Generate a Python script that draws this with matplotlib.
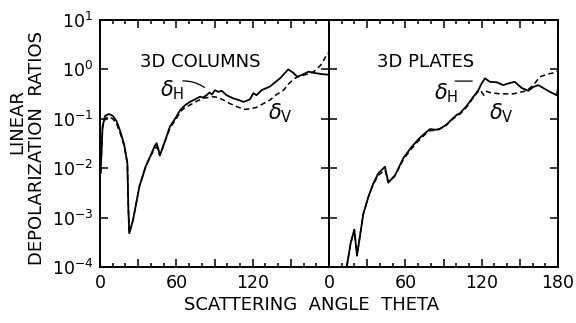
import numpy as np
import matplotlib
matplotlib.use("Agg")
import matplotlib.pyplot as plt
from matplotlib.ticker import MultipleLocator, FixedLocator, FuncFormatter

plt.rcParams['font.family'] = ['DejaVu Sans']
plt.rcParams['mathtext.fontset'] = 'dejavusans'

## 3D columns, delta_H (solid)
Col_H_Theta = [0.5, 2, 4, 7, 10, 13, 16, 19, 21.5, 22.3, 23, 26, 31, 36, 40.5, 43, 44.5, 46, 47,
               51, 55, 60, 63, 67, 70.7, 75, 78.6, 81, 83.8, 86, 88, 90.3, 93, 95.6, 99.5,
               104.7, 109, 112.6, 115, 118, 120.5, 123, 127, 133.6, 141.5, 148, 152, 155,
               159, 164, 168, 175, 179.5]
Col_H_Value = [0.008, 0.07, 0.115, 0.125, 0.115, 0.09, 0.055, 0.03, 0.0126, 0.0015, 0.00048,
               0.0009, 0.0043, 0.011, 0.02, 0.028, 0.032, 0.024, 0.018,
               0.035, 0.07, 0.11, 0.15, 0.19, 0.22, 0.25, 0.28, 0.27, 0.30, 0.34, 0.31, 0.38,
               0.35, 0.37, 0.30, 0.26, 0.24, 0.22, 0.23, 0.25, 0.33, 0.30, 0.38, 0.45, 0.66,
               1.0, 0.85, 0.71, 0.78, 0.90, 0.85, 0.80, 0.78]

## 3D columns, delta_V (dashed)
Col_V_Theta = [0.5, 2, 4, 7, 10, 13, 16, 19, 21.5, 22.3, 23, 26, 31, 36, 40.5, 43, 44.5, 46, 47,
               51, 55, 60, 63, 67, 70.7, 75, 81, 85, 89, 93, 97, 101, 104.7, 109, 114, 118,
               123, 128, 133.6, 138, 144.3, 148, 152, 155, 159, 164, 168, 171, 174.4, 178, 180]
Col_V_Value = [0.008, 0.065, 0.10, 0.11, 0.10, 0.08, 0.05, 0.028, 0.0126, 0.0015, 0.00048,
               0.0009, 0.0043, 0.011, 0.019, 0.025, 0.027, 0.022, 0.018,
               0.034, 0.065, 0.10, 0.14, 0.17, 0.19, 0.22, 0.26, 0.27, 0.28, 0.27, 0.24, 0.21,
               0.19, 0.17, 0.155, 0.16, 0.17, 0.20, 0.24, 0.30, 0.38, 0.50, 0.63, 0.70, 0.75,
               0.82, 0.90, 1.05, 1.3, 1.95, 2.2]

## 3D plates, delta_H (solid)
Pla_H_Theta = [13.9, 17, 19.9, 22, 27, 30.9, 34.8, 38.8, 44, 46.6, 51.9, 58.4, 65, 70, 75,
               79.4, 84, 87.2, 92, 96, 100.4, 103, 108, 113.5, 117.4, 120, 122.6, 126.5,
               131.8, 137, 141, 146, 151.5, 156.7, 160.6, 164.5, 168.4, 173.7, 179, 180]
Pla_H_Value = [0.0001, 0.0003, 0.00057, 0.00017, 0.0012, 0.0026, 0.0049, 0.0079, 0.0107,
               0.0051, 0.0072, 0.016, 0.027, 0.038, 0.050, 0.062, 0.060, 0.063, 0.075, 0.095,
               0.12, 0.13, 0.18, 0.28, 0.38, 0.52, 0.66, 0.56, 0.55, 0.48, 0.52, 0.56, 0.42,
               0.37, 0.44, 0.48, 0.42, 0.35, 0.30, 0.42]

## 3D plates, delta_V (dashed)
Pla_V_Theta = [13.9, 17, 19.9, 22, 27, 30.9, 34.8, 38.8, 44, 46.6, 51.9, 58.4, 65, 70, 75,
               79.4, 84, 87.2, 92, 96, 100.4, 103, 108, 113.5, 117.4, 119, 121.7, 124, 126.5,
               134.4, 144.8, 155.3, 160.6, 165.8, 172.4, 177.6, 180]
Pla_V_Value = [0.0001, 0.0003, 0.00057, 0.00017, 0.0012, 0.0026, 0.0047, 0.0072, 0.0092,
               0.0052, 0.0070, 0.015, 0.025, 0.035, 0.047, 0.058, 0.058, 0.062, 0.073, 0.092,
               0.115, 0.125, 0.17, 0.27, 0.36, 0.38, 0.30, 0.36, 0.34, 0.32, 0.32, 0.37,
               0.48, 0.71, 0.81, 0.86, 0.95]

Y_Tick_Exponents = [1, 0, -1, -2, -3, -4]

fig = plt.figure(figsize=(5.76, 3.23), dpi=100)
Left = 100 / 576
Width = 229 / 576
Bottom = 1 - 267 / 323
Height = 247 / 323
ax1 = fig.add_axes([Left, Bottom, Width, Height])
ax2 = fig.add_axes([Left + Width, Bottom, Width, Height], sharey=ax1)

Panels = [
    (ax1, Col_H_Theta, Col_H_Value, Col_V_Theta, Col_V_Value, [0, 60, 120]),
    (ax2, Pla_H_Theta, Pla_H_Value, Pla_V_Theta, Pla_V_Value, [0, 60, 120, 180]),
]

for ax, ht, hv, vt, vv, labelled in Panels:
    ax.plot(ht, hv, color='black', linewidth=1.3)
    ax.plot(vt, vv, color='black', linewidth=1.1, dashes=(3.5, 2.2))
    ax.set_yscale('log')
    ax.set_ylim(1e-4, 10)
    ax.set_xlim(0, 180)
    ax.xaxis.set_major_locator(MultipleLocator(30))
    ax.xaxis.set_minor_locator(MultipleLocator(10))
    ax.xaxis.set_major_formatter(FuncFormatter(
        lambda v, p, labelled=labelled: f'{int(round(v))}' if int(round(v)) in labelled else ''))
    ax.yaxis.set_major_locator(FixedLocator([10.0 ** e for e in Y_Tick_Exponents]))
    ax.yaxis.set_minor_locator(FixedLocator([]))
    ax.tick_params(which='both', direction='in', top=True, right=True, width=1.1)
    ax.tick_params(which='major', length=6)
    ax.tick_params(which='minor', length=3)
    ax.tick_params(axis='x', labelsize=12.5, pad=5)
    for s in ax.spines.values():
        s.set_linewidth(1.4)

ax1.yaxis.set_major_formatter(FuncFormatter(lambda v, p: r'$10^{%d}$' % int(round(np.log10(v)))))
ax1.tick_params(axis='y', labelsize=12.5, pad=5)
ax2.tick_params(axis='y', labelleft=False)

## Labels inside the panels
ax1.text(78.6, 1.41, '3D COLUMNS', fontsize=13, ha='center', va='center')
ax2.text(76.2, 1.41, '3D PLATES', fontsize=13, ha='center', va='center')
ax1.text(56.6, 0.38, r'$\delta_{\rm H}$', fontsize=15, ha='center', va='center')
ax1.text(141.5, 0.13, r'$\delta_{\rm V}$', fontsize=15, ha='center', va='center')
ax2.text(92, 0.33, r'$\delta_{\rm H}$', fontsize=15, ha='center', va='center')
ax2.text(135.2, 0.13, r'$\delta_{\rm V}$', fontsize=15, ha='center', va='center')
ax1.annotate('', xy=(83.8, 0.40), xytext=(62.9, 0.58),
             arrowprops=dict(arrowstyle='-', linewidth=0.9, connectionstyle='arc3,rad=-0.2'))
ax2.annotate('', xy=(114.8, 0.58), xytext=(97, 0.58),
             arrowprops=dict(arrowstyle='-', linewidth=0.9))

## Axis titles
fig.text(17 / 576, 1 - 122 / 323, 'LINEAR', rotation=90, fontsize=13, ha='center', va='center')
fig.text(37 / 576, 1 - 148 / 323, 'DEPOLARIZATION  RATIOS', rotation=90, fontsize=13,
         ha='center', va='center')
fig.text(312 / 576, 1 - 305 / 323, 'SCATTERING  ANGLE  THETA', fontsize=13, ha='center',
         va='center')

plt.savefig('out.png', dpi=100)
